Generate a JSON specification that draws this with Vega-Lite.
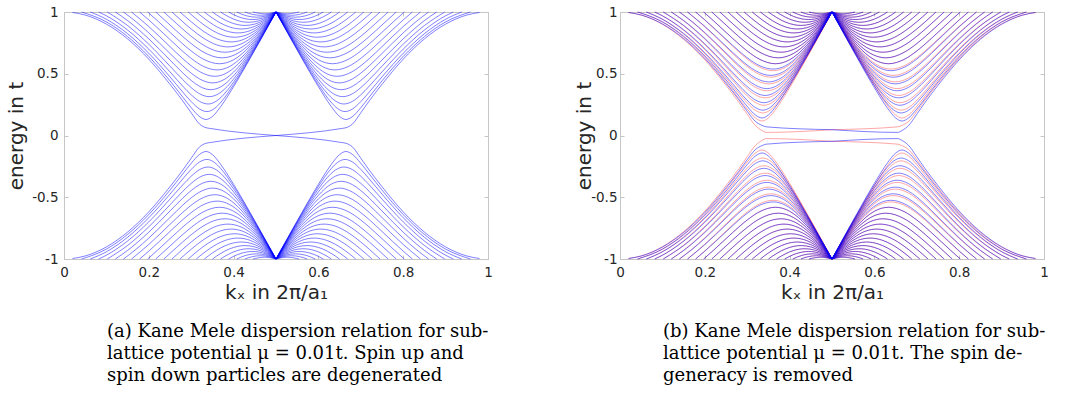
{
"$schema": "https://vega.github.io/schema/vega-lite/v6.json",
"padding": {"left": 6, "top": 4, "right": 20, "bottom": 0},
"autosize": {"type": "pad"},
"background": "white",
"datasets": {"D": [
{"s":"A","c":0,"k":0.02,"e":0.9961},{"s":"A","c":0,"k":0.05,"e":0.9754},{"s":"A","c":0,"k":0.1,"e":0.9021},{"s":"A","c":0,"k":0.15,"e":0.782},{"s":"A","c":0,"k":0.2,"e":0.618},{"s":"A","c":0,"k":0.25,"e":0.4142},{"s":"A","c":0,"k":0.28,"e":0.2806},{"s":"A","c":0,"k":0.3,"e":0.184},{"s":"A","c":0,"k":0.32,"e":0.0913},{"s":"A","c":0,"k":0.335,"e":0.063},{"s":"A","c":0,"k":0.345,"e":0.057},{"s":"A","c":0,"k":0.5,"e":0},
{"s":"A","c":1,"k":0.0414,"e":1},{"s":"A","c":1,"k":0.1,"e":0.9197},{"s":"A","c":1,"k":0.15,"e":0.801},{"s":"A","c":1,"k":0.2,"e":0.6397},{"s":"A","c":1,"k":0.25,"e":0.442},{"s":"A","c":1,"k":0.28,"e":0.3115},{"s":"A","c":1,"k":0.3,"e":0.2251},{"s":"A","c":1,"k":0.32,"e":0.1524},{"s":"A","c":1,"k":0.335,"e":0.1296},{"s":"A","c":1,"k":0.35,"e":0.1542},{"s":"A","c":1,"k":0.37,"e":0.2361},{"s":"A","c":1,"k":0.4,"e":0.3955},{"s":"A","c":1,"k":0.44,"e":0.6302},{"s":"A","c":1,"k":0.48,"e":0.8757},{"s":"A","c":1,"k":0.5,"e":1},
{"s":"A","c":2,"k":0.0621,"e":1},{"s":"A","c":2,"k":0.1,"e":0.9412},{"s":"A","c":2,"k":0.15,"e":0.8241},{"s":"A","c":2,"k":0.2,"e":0.6658},{"s":"A","c":2,"k":0.25,"e":0.4745},{"s":"A","c":2,"k":0.28,"e":0.3519},{"s":"A","c":2,"k":0.3,"e":0.2746},{"s":"A","c":2,"k":0.32,"e":0.2139},{"s":"A","c":2,"k":0.337,"e":0.1938},{"s":"A","c":2,"k":0.355,"e":0.2186},{"s":"A","c":2,"k":0.37,"e":0.2691},{"s":"A","c":2,"k":0.4,"e":0.4116},{"s":"A","c":2,"k":0.44,"e":0.6365},{"s":"A","c":2,"k":0.48,"e":0.8771},{"s":"A","c":2,"k":0.5,"e":1},
{"s":"A","c":3,"k":0.0821,"e":1},{"s":"A","c":3,"k":0.1,"e":0.9694},{"s":"A","c":3,"k":0.15,"e":0.8541},{"s":"A","c":3,"k":0.2,"e":0.6993},{"s":"A","c":3,"k":0.25,"e":0.515},{"s":"A","c":3,"k":0.28,"e":0.3999},{"s":"A","c":3,"k":0.3,"e":0.3296},{"s":"A","c":3,"k":0.32,"e":0.2758},{"s":"A","c":3,"k":0.34,"e":0.2551},{"s":"A","c":3,"k":0.36,"e":0.28},{"s":"A","c":3,"k":0.38,"e":0.344},{"s":"A","c":3,"k":0.4,"e":0.4322},{"s":"A","c":3,"k":0.44,"e":0.6447},{"s":"A","c":3,"k":0.48,"e":0.8791},{"s":"A","c":3,"k":0.5,"e":1},
{"s":"A","c":4,"k":0.1019,"e":1},{"s":"A","c":4,"k":0.15,"e":0.8902},{"s":"A","c":4,"k":0.2,"e":0.7391},{"s":"A","c":4,"k":0.25,"e":0.5613},{"s":"A","c":4,"k":0.28,"e":0.4527},{"s":"A","c":4,"k":0.3,"e":0.3876},{"s":"A","c":4,"k":0.32,"e":0.3375},{"s":"A","c":4,"k":0.3426,"e":0.3146},{"s":"A","c":4,"k":0.365,"e":0.339},{"s":"A","c":4,"k":0.38,"e":0.3799},{"s":"A","c":4,"k":0.4,"e":0.4568},{"s":"A","c":4,"k":0.44,"e":0.6549},{"s":"A","c":4,"k":0.48,"e":0.8816},{"s":"A","c":4,"k":0.5,"e":1},
{"s":"A","c":5,"k":0.121,"e":1},{"s":"A","c":5,"k":0.15,"e":0.9304},{"s":"A","c":5,"k":0.2,"e":0.7828},{"s":"A","c":5,"k":0.25,"e":0.611},{"s":"A","c":5,"k":0.28,"e":0.5073},{"s":"A","c":5,"k":0.3,"e":0.4456},{"s":"A","c":5,"k":0.32,"e":0.3975},{"s":"A","c":5,"k":0.3463,"e":0.3709},{"s":"A","c":5,"k":0.37,"e":0.3945},{"s":"A","c":5,"k":0.4,"e":0.4839},{"s":"A","c":5,"k":0.44,"e":0.6666},{"s":"A","c":5,"k":0.48,"e":0.8846},{"s":"A","c":5,"k":0.5,"e":1},
{"s":"A","c":6,"k":0.1401,"e":1},{"s":"A","c":6,"k":0.17,"e":0.9211},{"s":"A","c":6,"k":0.2,"e":0.8308},{"s":"A","c":6,"k":0.25,"e":0.6641},{"s":"A","c":6,"k":0.28,"e":0.5643},{"s":"A","c":6,"k":0.3,"e":0.5048},{"s":"A","c":6,"k":0.32,"e":0.4575},{"s":"A","c":6,"k":0.3506,"e":0.4259},{"s":"A","c":6,"k":0.38,"e":0.4581},{"s":"A","c":6,"k":0.4,"e":0.5135},{"s":"A","c":6,"k":0.44,"e":0.6799},{"s":"A","c":6,"k":0.48,"e":0.888},{"s":"A","c":6,"k":0.5,"e":1},
{"s":"A","c":7,"k":0.1592,"e":1},{"s":"A","c":7,"k":0.2,"e":0.8821},{"s":"A","c":7,"k":0.25,"e":0.7196},{"s":"A","c":7,"k":0.28,"e":0.6226},{"s":"A","c":7,"k":0.3,"e":0.5645},{"s":"A","c":7,"k":0.32,"e":0.5172},{"s":"A","c":7,"k":0.3554,"e":0.4794},{"s":"A","c":7,"k":0.38,"e":0.4998},{"s":"A","c":7,"k":0.4,"e":0.5452},{"s":"A","c":7,"k":0.44,"e":0.6948},{"s":"A","c":7,"k":0.48,"e":0.8918},{"s":"A","c":7,"k":0.5,"e":1},
{"s":"A","c":8,"k":0.1783,"e":1},{"s":"A","c":8,"k":0.2,"e":0.936},{"s":"A","c":8,"k":0.25,"e":0.7769},{"s":"A","c":8,"k":0.28,"e":0.6818},{"s":"A","c":8,"k":0.3,"e":0.6244},{"s":"A","c":8,"k":0.33,"e":0.558},{"s":"A","c":8,"k":0.3613,"e":0.5312},{"s":"A","c":8,"k":0.39,"e":0.5577},{"s":"A","c":8,"k":0.42,"e":0.6361},{"s":"A","c":8,"k":0.46,"e":0.7988},{"s":"A","c":8,"k":0.48,"e":0.8961},{"s":"A","c":8,"k":0.5,"e":1},
{"s":"A","c":9,"k":0.1974,"e":1},{"s":"A","c":9,"k":0.22,"e":0.9307},{"s":"A","c":9,"k":0.25,"e":0.8355},{"s":"A","c":9,"k":0.28,"e":0.7416},{"s":"A","c":9,"k":0.3,"e":0.6844},{"s":"A","c":9,"k":0.33,"e":0.6159},{"s":"A","c":9,"k":0.3666,"e":0.581},{"s":"A","c":9,"k":0.4,"e":0.6132},{"s":"A","c":9,"k":0.44,"e":0.7283},{"s":"A","c":9,"k":0.47,"e":0.8539},{"s":"A","c":9,"k":0.5,"e":1},
{"s":"A","c":10,"k":0.2165,"e":1},{"s":"A","c":10,"k":0.25,"e":0.8948},{"s":"A","c":10,"k":0.28,"e":0.8016},{"s":"A","c":10,"k":0.3,"e":0.7442},{"s":"A","c":10,"k":0.33,"e":0.6732},{"s":"A","c":10,"k":0.3729,"e":0.6288},{"s":"A","c":10,"k":0.41,"e":0.666},{"s":"A","c":10,"k":0.44,"e":0.7467},{"s":"A","c":10,"k":0.47,"e":0.8619},{"s":"A","c":10,"k":0.5,"e":1},
{"s":"A","c":11,"k":0.2355,"e":1},{"s":"A","c":11,"k":0.25,"e":0.9546},{"s":"A","c":11,"k":0.28,"e":0.8616},{"s":"A","c":11,"k":0.3,"e":0.8036},{"s":"A","c":11,"k":0.33,"e":0.7299},{"s":"A","c":11,"k":0.36,"e":0.6837},{"s":"A","c":11,"k":0.3796,"e":0.6743},{"s":"A","c":11,"k":0.41,"e":0.698},{"s":"A","c":11,"k":0.44,"e":0.7661},{"s":"A","c":11,"k":0.47,"e":0.8703},{"s":"A","c":11,"k":0.5,"e":1},
{"s":"A","c":12,"k":0.2546,"e":1},{"s":"A","c":12,"k":0.28,"e":0.9213},{"s":"A","c":12,"k":0.3,"e":0.8625},{"s":"A","c":12,"k":0.33,"e":0.7861},{"s":"A","c":12,"k":0.36,"e":0.7339},{"s":"A","c":12,"k":0.3868,"e":0.7174},{"s":"A","c":12,"k":0.42,"e":0.7445},{"s":"A","c":12,"k":0.45,"e":0.8136},{"s":"A","c":12,"k":0.48,"e":0.9169},{"s":"A","c":12,"k":0.5,"e":1},
{"s":"A","c":13,"k":0.2737,"e":1},{"s":"A","c":13,"k":0.3,"e":0.9209},{"s":"A","c":13,"k":0.33,"e":0.8415},{"s":"A","c":13,"k":0.36,"e":0.7836},{"s":"A","c":13,"k":0.3943,"e":0.7578},{"s":"A","c":13,"k":0.42,"e":0.7735},{"s":"A","c":13,"k":0.45,"e":0.8304},{"s":"A","c":13,"k":0.48,"e":0.9229},{"s":"A","c":13,"k":0.5,"e":1},
{"s":"A","c":14,"k":0.2928,"e":1},{"s":"A","c":14,"k":0.31,"e":0.9496},{"s":"A","c":14,"k":0.33,"e":0.8961},{"s":"A","c":14,"k":0.36,"e":0.8327},{"s":"A","c":14,"k":0.38,"e":0.8062},{"s":"A","c":14,"k":0.402,"e":0.7956},{"s":"A","c":14,"k":0.43,"e":0.8135},{"s":"A","c":14,"k":0.46,"e":0.8713},{"s":"A","c":14,"k":0.48,"e":0.9293},{"s":"A","c":14,"k":0.5,"e":1},
{"s":"A","c":15,"k":0.3119,"e":1},{"s":"A","c":15,"k":0.33,"e":0.9499},{"s":"A","c":15,"k":0.36,"e":0.8812},{"s":"A","c":15,"k":0.38,"e":0.8496},{"s":"A","c":15,"k":0.41,"e":0.8305},{"s":"A","c":15,"k":0.44,"e":0.8502},{"s":"A","c":15,"k":0.46,"e":0.8852},{"s":"A","c":15,"k":0.48,"e":0.9358},{"s":"A","c":15,"k":0.5,"e":1},
{"s":"A","c":16,"k":0.331,"e":1},{"s":"A","c":16,"k":0.35,"e":0.9514},{"s":"A","c":16,"k":0.37,"e":0.9092},{"s":"A","c":16,"k":0.39,"e":0.8793},{"s":"A","c":16,"k":0.4185,"e":0.8624},{"s":"A","c":16,"k":0.44,"e":0.8724},{"s":"A","c":16,"k":0.46,"e":0.8995},{"s":"A","c":16,"k":0.48,"e":0.9427},{"s":"A","c":16,"k":0.5,"e":1},
{"s":"A","c":17,"k":0.3501,"e":1},{"s":"A","c":17,"k":0.37,"e":0.9541},{"s":"A","c":17,"k":0.39,"e":0.9189},{"s":"A","c":17,"k":0.41,"e":0.8973},{"s":"A","c":17,"k":0.4272,"e":0.8912},{"s":"A","c":17,"k":0.45,"e":0.9023},{"s":"A","c":17,"k":0.47,"e":0.9299},{"s":"A","c":17,"k":0.5,"e":1},
{"s":"A","c":18,"k":0.3692,"e":1},{"s":"A","c":18,"k":0.39,"e":0.9581},{"s":"A","c":18,"k":0.41,"e":0.9304},{"s":"A","c":18,"k":0.436,"e":0.9168},{"s":"A","c":18,"k":0.46,"e":0.9288},{"s":"A","c":18,"k":0.48,"e":0.9568},{"s":"A","c":18,"k":0.5,"e":1},
{"s":"A","c":19,"k":0.3883,"e":1},{"s":"A","c":19,"k":0.41,"e":0.9633},{"s":"A","c":19,"k":0.43,"e":0.9437},{"s":"A","c":19,"k":0.445,"e":0.9391},{"s":"A","c":19,"k":0.46,"e":0.9437},{"s":"A","c":19,"k":0.48,"e":0.9641},{"s":"A","c":19,"k":0.5,"e":1},
{"s":"A","c":20,"k":0.4074,"e":1},{"s":"A","c":20,"k":0.43,"e":0.9696},{"s":"A","c":20,"k":0.454,"e":0.958},{"s":"A","c":20,"k":0.475,"e":0.9668},{"s":"A","c":20,"k":0.5,"e":1},
{"s":"A","c":21,"k":0.4265,"e":1},{"s":"A","c":21,"k":0.445,"e":0.9803},{"s":"A","c":21,"k":0.4635,"e":0.9735},{"s":"A","c":21,"k":0.485,"e":0.9828},{"s":"A","c":21,"k":0.5,"e":1},
{"s":"A","c":22,"k":0.4456,"e":1},{"s":"A","c":22,"k":0.4729,"e":0.9855},{"s":"A","c":22,"k":0.5,"e":1},
{"s":"P","c":0,"k":0.02,"e":0.9962},{"s":"P","c":0,"k":0.05,"e":0.9757},{"s":"P","c":0,"k":0.1,"e":0.9035},{"s":"P","c":0,"k":0.15,"e":0.7851},{"s":"P","c":0,"k":0.2,"e":0.6233},{"s":"P","c":0,"k":0.25,"e":0.4224},{"s":"P","c":0,"k":0.28,"e":0.2907},{"s":"P","c":0,"k":0.3,"e":0.196},{"s":"P","c":0,"k":0.32,"e":0.112},{"s":"P","c":0,"k":0.335,"e":0.082},{"s":"P","c":0,"k":0.345,"e":0.07},{"s":"P","c":0,"k":0.5,"e":0.047},
{"s":"M","c":0,"k":0.02,"e":0.996},{"s":"M","c":0,"k":0.05,"e":0.9751},{"s":"M","c":0,"k":0.1,"e":0.9007},{"s":"M","c":0,"k":0.15,"e":0.7789},{"s":"M","c":0,"k":0.2,"e":0.6127},{"s":"M","c":0,"k":0.25,"e":0.406},{"s":"M","c":0,"k":0.28,"e":0.2705},{"s":"M","c":0,"k":0.3,"e":0.172},{"s":"M","c":0,"k":0.32,"e":0.078},{"s":"M","c":0,"k":0.335,"e":0.04},{"s":"M","c":0,"k":0.345,"e":0.025},{"s":"M","c":0,"k":0.5,"e":0.047},
{"s":"P","c":1,"k":0.0414,"e":1},{"s":"P","c":1,"k":0.1,"e":0.9208},{"s":"P","c":1,"k":0.15,"e":0.8038},{"s":"P","c":1,"k":0.2,"e":0.6447},{"s":"P","c":1,"k":0.25,"e":0.4498},{"s":"P","c":1,"k":0.28,"e":0.3211},{"s":"P","c":1,"k":0.3,"e":0.2359},{"s":"P","c":1,"k":0.32,"e":0.1643},{"s":"P","c":1,"k":0.335,"e":0.1418},{"s":"P","c":1,"k":0.35,"e":0.166},{"s":"P","c":1,"k":0.37,"e":0.2468},{"s":"P","c":1,"k":0.4,"e":0.404},{"s":"P","c":1,"k":0.44,"e":0.6354},{"s":"P","c":1,"k":0.48,"e":0.8774},{"s":"P","c":1,"k":0.5,"e":1},
{"s":"M","c":1,"k":0.0414,"e":1},{"s":"M","c":1,"k":0.1,"e":0.9186},{"s":"M","c":1,"k":0.15,"e":0.7982},{"s":"M","c":1,"k":0.2,"e":0.6347},{"s":"M","c":1,"k":0.25,"e":0.4342},{"s":"M","c":1,"k":0.28,"e":0.3019},{"s":"M","c":1,"k":0.3,"e":0.2143},{"s":"M","c":1,"k":0.32,"e":0.1405},{"s":"M","c":1,"k":0.335,"e":0.1174},{"s":"M","c":1,"k":0.35,"e":0.1424},{"s":"M","c":1,"k":0.37,"e":0.2254},{"s":"M","c":1,"k":0.4,"e":0.387},{"s":"M","c":1,"k":0.44,"e":0.625},{"s":"M","c":1,"k":0.48,"e":0.874},{"s":"M","c":1,"k":0.5,"e":1},
{"s":"P","c":2,"k":0.0621,"e":1},{"s":"P","c":2,"k":0.1,"e":0.942},{"s":"P","c":2,"k":0.15,"e":0.8266},{"s":"P","c":2,"k":0.2,"e":0.6705},{"s":"P","c":2,"k":0.25,"e":0.4819},{"s":"P","c":2,"k":0.28,"e":0.361},{"s":"P","c":2,"k":0.3,"e":0.2848},{"s":"P","c":2,"k":0.32,"e":0.2249},{"s":"P","c":2,"k":0.337,"e":0.2051},{"s":"P","c":2,"k":0.355,"e":0.2295},{"s":"P","c":2,"k":0.37,"e":0.2793},{"s":"P","c":2,"k":0.4,"e":0.4198},{"s":"P","c":2,"k":0.44,"e":0.6416},{"s":"P","c":2,"k":0.48,"e":0.8788},{"s":"P","c":2,"k":0.5,"e":1},
{"s":"M","c":2,"k":0.0621,"e":1},{"s":"M","c":2,"k":0.1,"e":0.9404},{"s":"M","c":2,"k":0.15,"e":0.8216},{"s":"M","c":2,"k":0.2,"e":0.6611},{"s":"M","c":2,"k":0.25,"e":0.4671},{"s":"M","c":2,"k":0.28,"e":0.3428},{"s":"M","c":2,"k":0.3,"e":0.2644},{"s":"M","c":2,"k":0.32,"e":0.2029},{"s":"M","c":2,"k":0.337,"e":0.1825},{"s":"M","c":2,"k":0.355,"e":0.2077},{"s":"M","c":2,"k":0.37,"e":0.2589},{"s":"M","c":2,"k":0.4,"e":0.4034},{"s":"M","c":2,"k":0.44,"e":0.6314},{"s":"M","c":2,"k":0.48,"e":0.8754},{"s":"M","c":2,"k":0.5,"e":1},
{"s":"P","c":3,"k":0.0821,"e":1},{"s":"P","c":3,"k":0.1,"e":0.9698},{"s":"P","c":3,"k":0.15,"e":0.8561},{"s":"P","c":3,"k":0.2,"e":0.7035},{"s":"P","c":3,"k":0.25,"e":0.5218},{"s":"P","c":3,"k":0.28,"e":0.4083},{"s":"P","c":3,"k":0.3,"e":0.339},{"s":"P","c":3,"k":0.32,"e":0.2859},{"s":"P","c":3,"k":0.34,"e":0.2655},{"s":"P","c":3,"k":0.36,"e":0.2901},{"s":"P","c":3,"k":0.38,"e":0.3532},{"s":"P","c":3,"k":0.4,"e":0.4401},{"s":"P","c":3,"k":0.44,"e":0.6497},{"s":"P","c":3,"k":0.48,"e":0.8808},{"s":"P","c":3,"k":0.5,"e":1},
{"s":"M","c":3,"k":0.0821,"e":1},{"s":"M","c":3,"k":0.1,"e":0.969},{"s":"M","c":3,"k":0.15,"e":0.8521},{"s":"M","c":3,"k":0.2,"e":0.6951},{"s":"M","c":3,"k":0.25,"e":0.5082},{"s":"M","c":3,"k":0.28,"e":0.3915},{"s":"M","c":3,"k":0.3,"e":0.3202},{"s":"M","c":3,"k":0.32,"e":0.2657},{"s":"M","c":3,"k":0.34,"e":0.2447},{"s":"M","c":3,"k":0.36,"e":0.2699},{"s":"M","c":3,"k":0.38,"e":0.3348},{"s":"M","c":3,"k":0.4,"e":0.4243},{"s":"M","c":3,"k":0.44,"e":0.6397},{"s":"M","c":3,"k":0.48,"e":0.8774},{"s":"M","c":3,"k":0.5,"e":1},
{"s":"P","c":4,"k":0.1019,"e":1},{"s":"P","c":4,"k":0.15,"e":0.8917},{"s":"P","c":4,"k":0.2,"e":0.7428},{"s":"P","c":4,"k":0.25,"e":0.5674},{"s":"P","c":4,"k":0.28,"e":0.4604},{"s":"P","c":4,"k":0.3,"e":0.3962},{"s":"P","c":4,"k":0.32,"e":0.3468},{"s":"P","c":4,"k":0.3426,"e":0.3242},{"s":"P","c":4,"k":0.365,"e":0.3483},{"s":"P","c":4,"k":0.38,"e":0.3886},{"s":"P","c":4,"k":0.4,"e":0.4644},{"s":"P","c":4,"k":0.44,"e":0.6597},{"s":"P","c":4,"k":0.48,"e":0.8833},{"s":"P","c":4,"k":0.5,"e":1},
{"s":"M","c":4,"k":0.1019,"e":1},{"s":"M","c":4,"k":0.15,"e":0.8887},{"s":"M","c":4,"k":0.2,"e":0.7354},{"s":"M","c":4,"k":0.25,"e":0.5552},{"s":"M","c":4,"k":0.28,"e":0.445},{"s":"M","c":4,"k":0.3,"e":0.379},{"s":"M","c":4,"k":0.32,"e":0.3282},{"s":"M","c":4,"k":0.3426,"e":0.305},{"s":"M","c":4,"k":0.365,"e":0.3297},{"s":"M","c":4,"k":0.38,"e":0.3712},{"s":"M","c":4,"k":0.4,"e":0.4492},{"s":"M","c":4,"k":0.44,"e":0.6501},{"s":"M","c":4,"k":0.48,"e":0.8799},{"s":"M","c":4,"k":0.5,"e":1},
{"s":"P","c":5,"k":0.121,"e":1},{"s":"P","c":5,"k":0.15,"e":0.9314},{"s":"P","c":5,"k":0.2,"e":0.7858},{"s":"P","c":5,"k":0.25,"e":0.6164},{"s":"P","c":5,"k":0.28,"e":0.5142},{"s":"P","c":5,"k":0.3,"e":0.4534},{"s":"P","c":5,"k":0.32,"e":0.4059},{"s":"P","c":5,"k":0.3463,"e":0.3797},{"s":"P","c":5,"k":0.37,"e":0.403},{"s":"P","c":5,"k":0.4,"e":0.4911},{"s":"P","c":5,"k":0.44,"e":0.6713},{"s":"P","c":5,"k":0.48,"e":0.8862},{"s":"P","c":5,"k":0.5,"e":1},
{"s":"M","c":5,"k":0.121,"e":1},{"s":"M","c":5,"k":0.15,"e":0.9294},{"s":"M","c":5,"k":0.2,"e":0.7798},{"s":"M","c":5,"k":0.25,"e":0.6056},{"s":"M","c":5,"k":0.28,"e":0.5004},{"s":"M","c":5,"k":0.3,"e":0.4378},{"s":"M","c":5,"k":0.32,"e":0.3891},{"s":"M","c":5,"k":0.3463,"e":0.3621},{"s":"M","c":5,"k":0.37,"e":0.386},{"s":"M","c":5,"k":0.4,"e":0.4767},{"s":"M","c":5,"k":0.44,"e":0.6619},{"s":"M","c":5,"k":0.48,"e":0.883},{"s":"M","c":5,"k":0.5,"e":1},
{"s":"P","c":6,"k":0.1401,"e":1},{"s":"P","c":6,"k":0.17,"e":0.9222},{"s":"P","c":6,"k":0.2,"e":0.8332},{"s":"P","c":6,"k":0.25,"e":0.6688},{"s":"P","c":6,"k":0.28,"e":0.5704},{"s":"P","c":6,"k":0.3,"e":0.5117},{"s":"P","c":6,"k":0.32,"e":0.4651},{"s":"P","c":6,"k":0.3506,"e":0.4339},{"s":"P","c":6,"k":0.38,"e":0.4657},{"s":"P","c":6,"k":0.4,"e":0.5203},{"s":"P","c":6,"k":0.44,"e":0.6844},{"s":"P","c":6,"k":0.48,"e":0.8896},{"s":"P","c":6,"k":0.5,"e":1},
{"s":"M","c":6,"k":0.1401,"e":1},{"s":"M","c":6,"k":0.17,"e":0.92},{"s":"M","c":6,"k":0.2,"e":0.8284},{"s":"M","c":6,"k":0.25,"e":0.6594},{"s":"M","c":6,"k":0.28,"e":0.5582},{"s":"M","c":6,"k":0.3,"e":0.4979},{"s":"M","c":6,"k":0.32,"e":0.4499},{"s":"M","c":6,"k":0.3506,"e":0.4179},{"s":"M","c":6,"k":0.38,"e":0.4505},{"s":"M","c":6,"k":0.4,"e":0.5067},{"s":"M","c":6,"k":0.44,"e":0.6754},{"s":"M","c":6,"k":0.48,"e":0.8864},{"s":"M","c":6,"k":0.5,"e":1},
{"s":"P","c":7,"k":0.1592,"e":1},{"s":"P","c":7,"k":0.2,"e":0.8838},{"s":"P","c":7,"k":0.25,"e":0.7235},{"s":"P","c":7,"k":0.28,"e":0.6279},{"s":"P","c":7,"k":0.3,"e":0.5706},{"s":"P","c":7,"k":0.32,"e":0.524},{"s":"P","c":7,"k":0.3554,"e":0.4867},{"s":"P","c":7,"k":0.38,"e":0.5068},{"s":"P","c":7,"k":0.4,"e":0.5516},{"s":"P","c":7,"k":0.44,"e":0.6991},{"s":"P","c":7,"k":0.48,"e":0.8933},{"s":"P","c":7,"k":0.5,"e":1},
{"s":"M","c":7,"k":0.1592,"e":1},{"s":"M","c":7,"k":0.2,"e":0.8804},{"s":"M","c":7,"k":0.25,"e":0.7157},{"s":"M","c":7,"k":0.28,"e":0.6173},{"s":"M","c":7,"k":0.3,"e":0.5584},{"s":"M","c":7,"k":0.32,"e":0.5104},{"s":"M","c":7,"k":0.3554,"e":0.4721},{"s":"M","c":7,"k":0.38,"e":0.4928},{"s":"M","c":7,"k":0.4,"e":0.5388},{"s":"M","c":7,"k":0.44,"e":0.6905},{"s":"M","c":7,"k":0.48,"e":0.8903},{"s":"M","c":7,"k":0.5,"e":1},
{"s":"P","c":8,"k":0.1783,"e":1},{"s":"P","c":8,"k":0.2,"e":0.9369},{"s":"P","c":8,"k":0.25,"e":0.78},{"s":"P","c":8,"k":0.28,"e":0.6863},{"s":"P","c":8,"k":0.3,"e":0.6297},{"s":"P","c":8,"k":0.33,"e":0.5642},{"s":"P","c":8,"k":0.3613,"e":0.5378},{"s":"P","c":8,"k":0.39,"e":0.5639},{"s":"P","c":8,"k":0.42,"e":0.6412},{"s":"P","c":8,"k":0.46,"e":0.8016},{"s":"P","c":8,"k":0.48,"e":0.8976},{"s":"P","c":8,"k":0.5,"e":1},
{"s":"M","c":8,"k":0.1783,"e":1},{"s":"M","c":8,"k":0.2,"e":0.9351},{"s":"M","c":8,"k":0.25,"e":0.7738},{"s":"M","c":8,"k":0.28,"e":0.6773},{"s":"M","c":8,"k":0.3,"e":0.6191},{"s":"M","c":8,"k":0.33,"e":0.5518},{"s":"M","c":8,"k":0.3613,"e":0.5246},{"s":"M","c":8,"k":0.39,"e":0.5515},{"s":"M","c":8,"k":0.42,"e":0.631},{"s":"M","c":8,"k":0.46,"e":0.796},{"s":"M","c":8,"k":0.48,"e":0.8946},{"s":"M","c":8,"k":0.5,"e":1}
]},
"config": {
  "view": {"stroke": "#c6c6c6", "strokeWidth": 1},
  "axis": {"domain": false, "grid": false, "ticks": true, "tickColor": "#c6c6c6", "tickSize": -4, "labelFont": "DejaVu Sans", "labelFontSize": 13.5, "labelColor": "#262626", "titleFont": "DejaVu Sans", "titleFontSize": 20, "titleFontWeight": "normal", "titleColor": "#262626", "labelFlush": false, "labelOverlap": false},
  "line": {"strokeWidth": 0.5, "interpolate": "monotone", "clip": true},
  "concat": {"spacing": 81}
},
"hconcat": [
{
 "width": 424, "height": 247,
 "title": {"text": ["(a) Kane Mele dispersion relation for sub-", "lattice potential μ = 0.01t.  Spin up and", "spin down particles are degenerated"], "orient": "bottom", "anchor": "start", "frame": "group", "align": "left", "baseline": "top", "dx": 43, "offset": 20, "font": "DejaVu Serif", "fontSize": 18, "lineHeight": 22, "fontWeight": "normal", "color": "#000000"},
 "data": {"name": "D"},
 "transform": [{"filter": "datum.s == 'A'"}],
 "layer": [
  {"mark": {"type": "line", "color": "#0000ff"}, "encoding": {
    "x": {"field": "k", "type": "quantitative", "scale": {"domain": [0, 1]}, "axis": {"values": [0, 0.2, 0.4, 0.6, 0.8, 1], "labelExpr": "'' + datum.value", "title": "kₓ in 2π/a₁", "labelPadding": 10, "titlePadding": 4}},
    "y": {"field": "e", "type": "quantitative", "scale": {"domain": [-1, 1]}, "axis": {"values": [-1, -0.5, 0, 0.5, 1], "labelExpr": "'' + datum.value", "title": "energy in t", "labelPadding": 10, "titlePadding": 5}},
    "detail": {"field": "c", "type": "nominal"}}},
  {"mark": {"type": "line", "color": "#0000ff"}, "encoding": {
    "x": {"field": "k", "type": "quantitative", "scale": {"domain": [0, 1], "reverse": true}, "axis": {"orient": "top", "values": [0, 0.2, 0.4, 0.6, 0.8, 1], "labels": false, "title": null}},
    "y": {"field": "e", "type": "quantitative", "scale": {"domain": [-1, 1]}, "axis": {"orient": "right", "values": [-1, -0.5, 0, 0.5, 1], "labels": false, "title": null}},
    "order": {"field": "k", "sort": "descending"},
    "detail": {"field": "c", "type": "nominal"}}},
  {"mark": {"type": "line", "color": "#0000ff"}, "encoding": {
    "x": {"field": "k", "type": "quantitative", "scale": {"domain": [0, 1]}, "axis": null},
    "y": {"field": "e", "type": "quantitative", "scale": {"domain": [-1, 1], "reverse": true}, "axis": null},
    "detail": {"field": "c", "type": "nominal"}}},
  {"mark": {"type": "line", "color": "#0000ff"}, "encoding": {
    "x": {"field": "k", "type": "quantitative", "scale": {"domain": [0, 1], "reverse": true}, "axis": null},
    "y": {"field": "e", "type": "quantitative", "scale": {"domain": [-1, 1], "reverse": true}, "axis": null},
    "order": {"field": "k", "sort": "descending"},
    "detail": {"field": "c", "type": "nominal"}}}
 ],
 "resolve": {"scale": {"x": "independent", "y": "independent"}, "axis": {"x": "independent", "y": "independent"}}
},
{
 "width": 424, "height": 247,
 "title": {"text": ["(b) Kane Mele dispersion relation for sub-", "lattice potential μ = 0.01t.  The spin de-", "generacy is removed"], "orient": "bottom", "anchor": "start", "frame": "group", "align": "left", "baseline": "top", "dx": 43, "offset": 20, "font": "DejaVu Serif", "fontSize": 18, "lineHeight": 22, "fontWeight": "normal", "color": "#000000"},
 "data": {"name": "D"},
 "layer": [
  {"transform": [{"filter": "datum.s == 'M' || (datum.s == 'A' && datum.c >= 9)"}], "mark": {"type": "line", "color": "#ff0000", "strokeOpacity": 0.7}, "encoding": {
    "x": {"field": "k", "type": "quantitative", "scale": {"domain": [0, 1]}, "axis": {"values": [0, 0.2, 0.4, 0.6, 0.8, 1], "labelExpr": "'' + datum.value", "title": "kₓ in 2π/a₁", "labelPadding": 10, "titlePadding": 4}},
    "y": {"field": "e", "type": "quantitative", "scale": {"domain": [-1, 1]}, "axis": {"values": [-1, -0.5, 0, 0.5, 1], "labelExpr": "'' + datum.value", "title": "energy in t", "labelPadding": 7, "titlePadding": -4}},
    "detail": {"field": "c", "type": "nominal"}}},
  {"transform": [{"filter": "datum.s == 'P' || (datum.s == 'A' && datum.c >= 9)"}], "mark": {"type": "line", "color": "#ff0000", "strokeOpacity": 0.7}, "encoding": {
    "x": {"field": "k", "type": "quantitative", "scale": {"domain": [0, 1], "reverse": true}, "axis": {"orient": "top", "values": [0, 0.2, 0.4, 0.6, 0.8, 1], "labels": false, "title": null}},
    "y": {"field": "e", "type": "quantitative", "scale": {"domain": [-1, 1]}, "axis": {"orient": "right", "values": [-1, -0.5, 0, 0.5, 1], "labels": false, "title": null}},
    "order": {"field": "k", "sort": "descending"},
    "detail": {"field": "c", "type": "nominal"}}},
  {"transform": [{"filter": "datum.s == 'M' || (datum.s == 'A' && datum.c >= 9)"}], "mark": {"type": "line", "color": "#ff0000", "strokeOpacity": 0.7}, "encoding": {
    "x": {"field": "k", "type": "quantitative", "scale": {"domain": [0, 1]}, "axis": null},
    "y": {"field": "e", "type": "quantitative", "scale": {"domain": [-1, 1], "reverse": true}, "axis": null},
    "detail": {"field": "c", "type": "nominal"}}},
  {"transform": [{"filter": "datum.s == 'P' || (datum.s == 'A' && datum.c >= 9)"}], "mark": {"type": "line", "color": "#ff0000", "strokeOpacity": 0.7}, "encoding": {
    "x": {"field": "k", "type": "quantitative", "scale": {"domain": [0, 1], "reverse": true}, "axis": null},
    "y": {"field": "e", "type": "quantitative", "scale": {"domain": [-1, 1], "reverse": true}, "axis": null},
    "order": {"field": "k", "sort": "descending"},
    "detail": {"field": "c", "type": "nominal"}}},
  {"transform": [{"filter": "datum.s == 'P' || (datum.s == 'A' && datum.c >= 9)"}], "mark": {"type": "line", "color": "#0000ff"}, "encoding": {
    "x": {"field": "k", "type": "quantitative", "scale": {"domain": [0, 1]}, "axis": null},
    "y": {"field": "e", "type": "quantitative", "scale": {"domain": [-1, 1]}, "axis": null},
    "detail": {"field": "c", "type": "nominal"}}},
  {"transform": [{"filter": "datum.s == 'M' || (datum.s == 'A' && datum.c >= 9)"}], "mark": {"type": "line", "color": "#0000ff"}, "encoding": {
    "x": {"field": "k", "type": "quantitative", "scale": {"domain": [0, 1], "reverse": true}, "axis": null},
    "y": {"field": "e", "type": "quantitative", "scale": {"domain": [-1, 1]}, "axis": null},
    "order": {"field": "k", "sort": "descending"},
    "detail": {"field": "c", "type": "nominal"}}},
  {"transform": [{"filter": "datum.s == 'P' || (datum.s == 'A' && datum.c >= 9)"}], "mark": {"type": "line", "color": "#0000ff"}, "encoding": {
    "x": {"field": "k", "type": "quantitative", "scale": {"domain": [0, 1]}, "axis": null},
    "y": {"field": "e", "type": "quantitative", "scale": {"domain": [-1, 1], "reverse": true}, "axis": null},
    "detail": {"field": "c", "type": "nominal"}}},
  {"transform": [{"filter": "datum.s == 'M' || (datum.s == 'A' && datum.c >= 9)"}], "mark": {"type": "line", "color": "#0000ff"}, "encoding": {
    "x": {"field": "k", "type": "quantitative", "scale": {"domain": [0, 1], "reverse": true}, "axis": null},
    "y": {"field": "e", "type": "quantitative", "scale": {"domain": [-1, 1], "reverse": true}, "axis": null},
    "order": {"field": "k", "sort": "descending"},
    "detail": {"field": "c", "type": "nominal"}}}
 ],
 "resolve": {"scale": {"x": "independent", "y": "independent"}, "axis": {"x": "independent", "y": "independent"}}
}
]
}
